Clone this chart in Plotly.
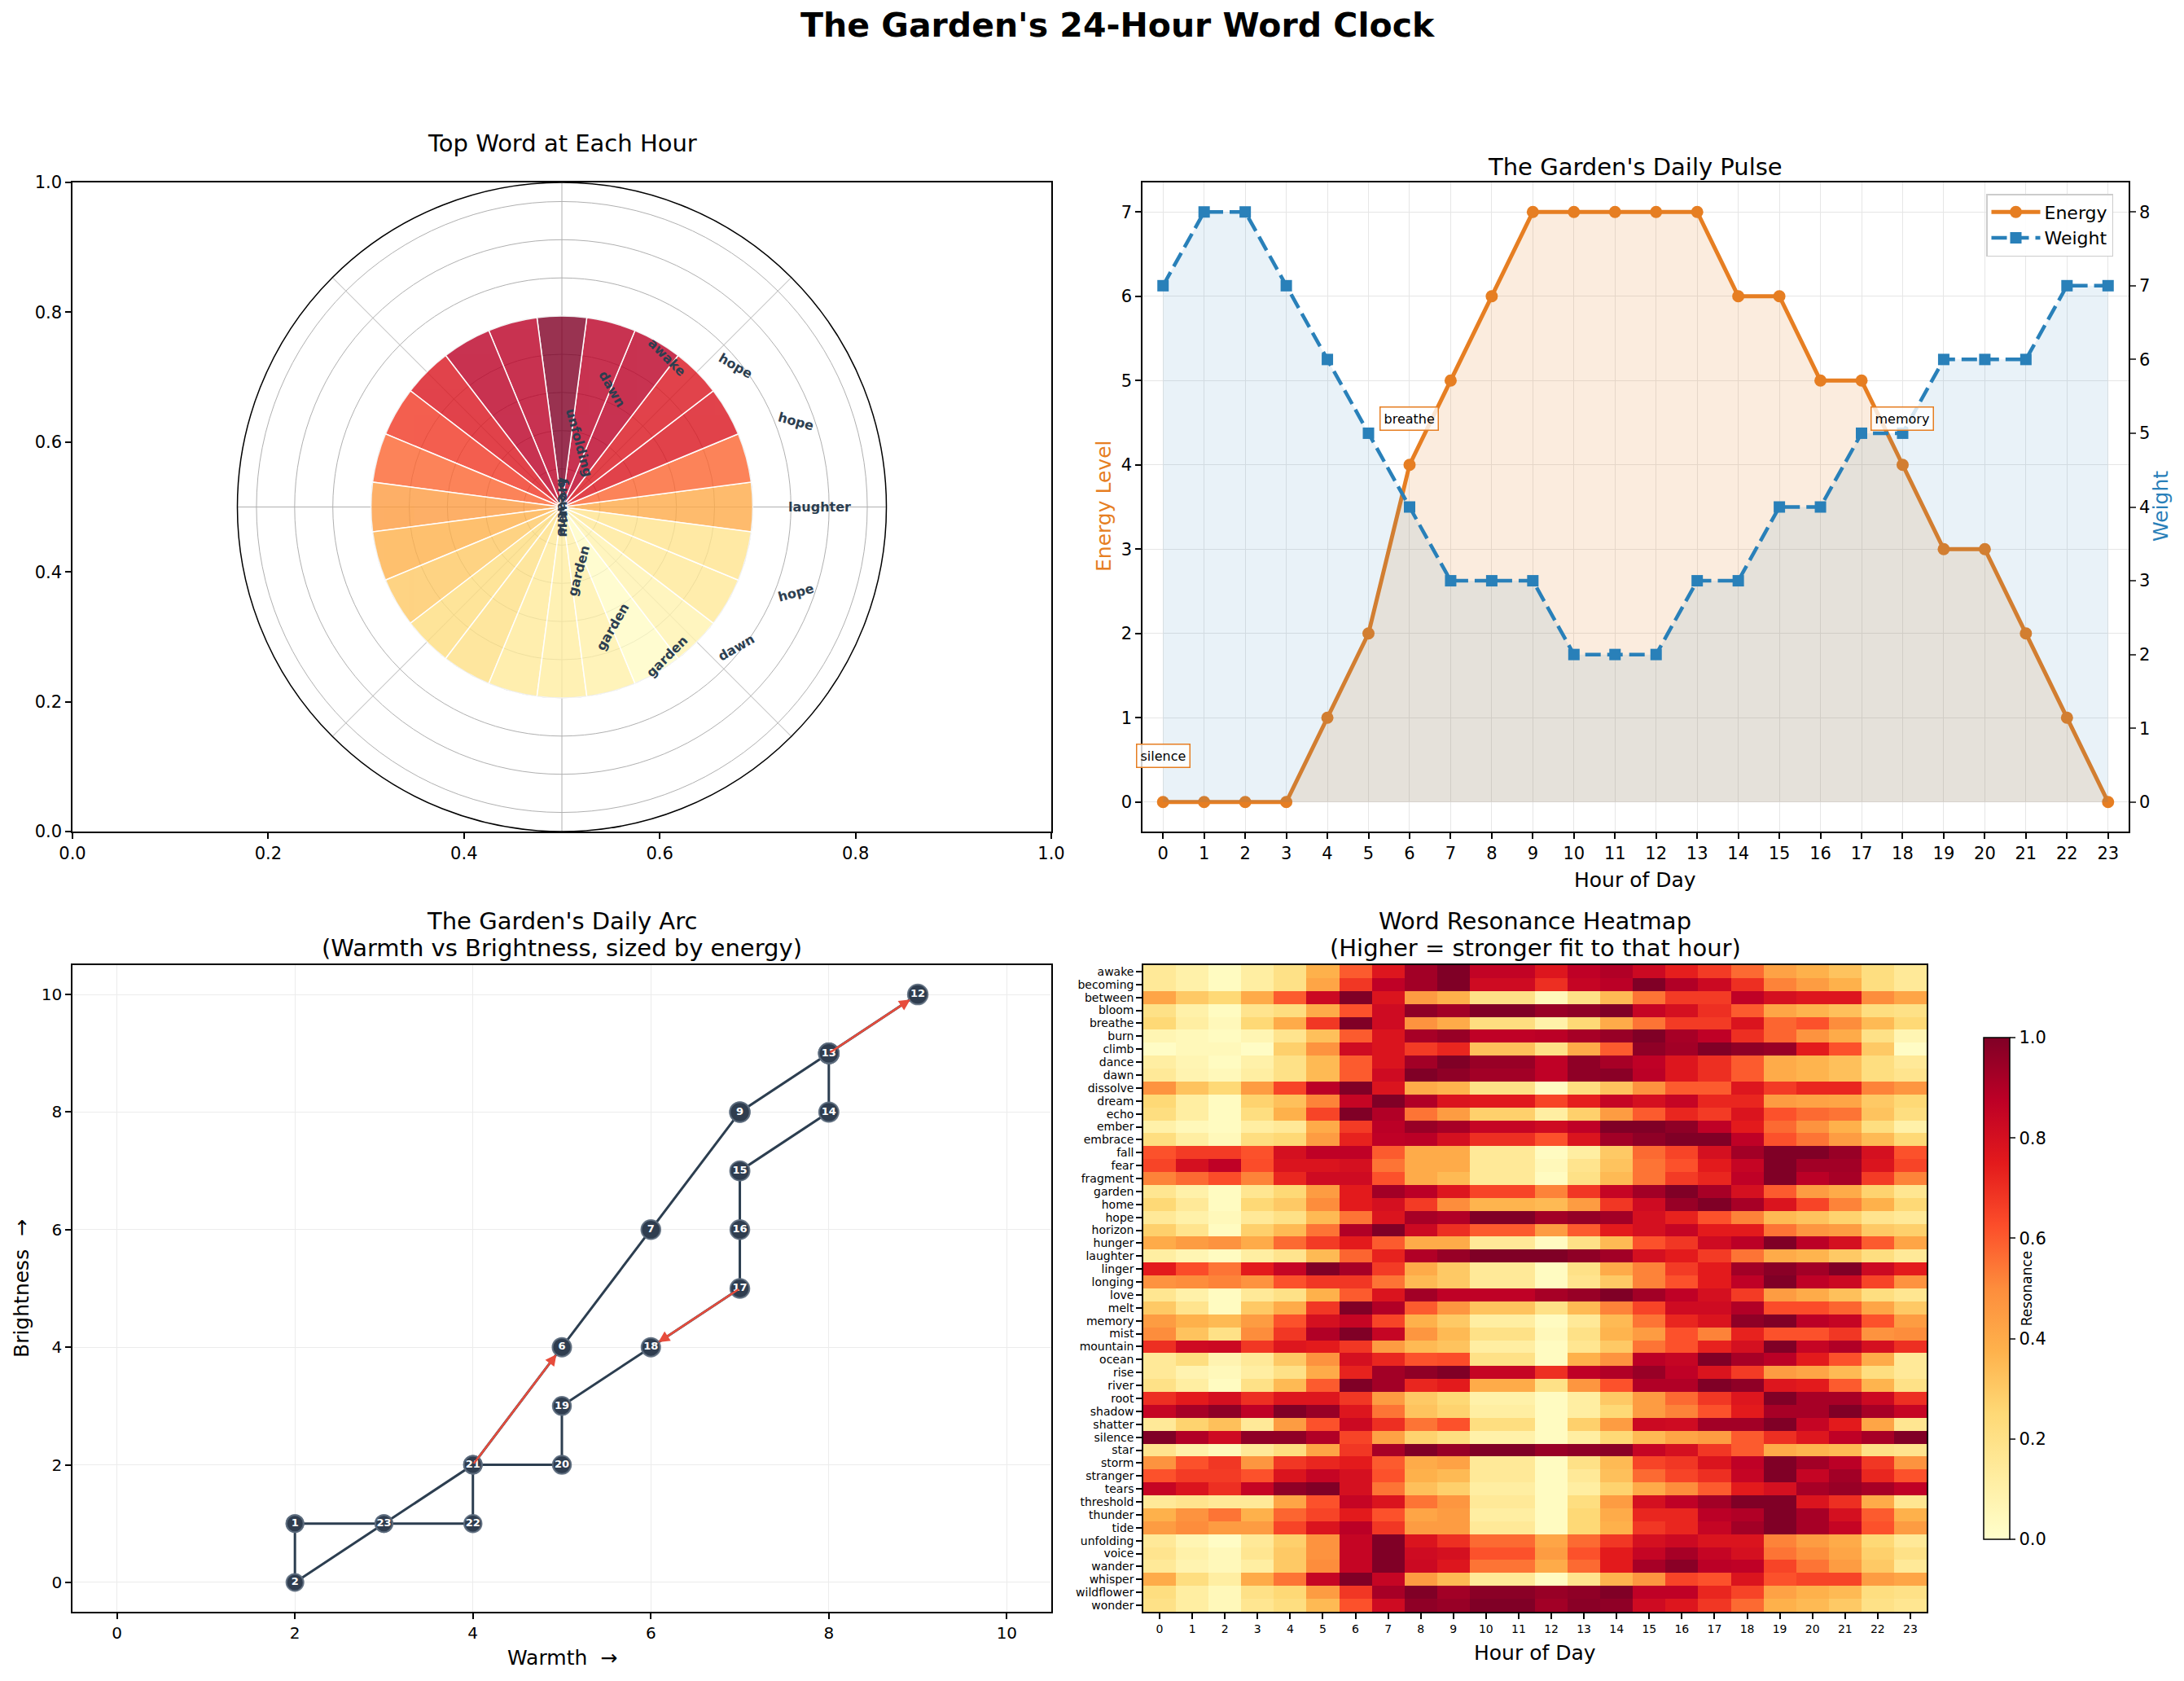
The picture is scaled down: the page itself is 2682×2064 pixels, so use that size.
import math
import plotly.graph_objects as go

W, H = 2682, 2064
FONT = "DejaVu Sans"

# ---------------- data ----------------
hours = list(range(24))
energy = [0, 0, 0, 0, 1, 2, 4, 5, 6, 7, 7, 7, 7, 7, 6, 6, 5, 5, 4, 3, 3, 2, 1, 0]
weight = [7, 8, 8, 7, 6, 5, 4, 3, 3, 3, 2, 2, 2, 3, 3, 4, 4, 5, 5, 6, 6, 6, 7, 7]
warmth = [2, 2, 2, 3, 4, 4, 5, 6, 7, 7, 8, 8, 9, 8, 8, 7, 7, 7, 6, 5, 5, 4, 4, 3]
brightness = [1, 1, 0, 1, 2, 2, 4, 6, 8, 8, 9, 9, 10, 9, 8, 7, 6, 5, 4, 3, 2, 2, 1, 1]

pulse_words = ["silence", "breathe", "memory"]
pulse_word_hours = [0, 6, 18]
arc_arrow_pairs = [(5, 6), (11, 12), (17, 18)]

# polar clock: 24 wedges (counter-clockwise from east), equal length, coloured by intensity
clock_theta = [15 * i for i in range(24)]
clock_r = [5] * 24
clock_intensity = [0.40, 0.58, 0.78, 0.78, 0.88, 0.88, 1.00, 0.88, 0.88, 0.78, 0.68, 0.58,
                   0.45, 0.38, 0.30, 0.22, 0.20, 0.14, 0.12, 0.10, 0.02, 0.08, 0.15, 0.18]
clock_words = ["laughter", "hope", "hope", "awake", "dawn", "unfolding",
               "garden", "garden", "garden", "dawn", "hope"]
clock_word_angle = [0, 20, 39, 55, 67, 75, -75, -67, -55, -39, -20]
clock_word_r = [6.76, 6.53, 5.87, 4.78, 3.37, 1.74, 1.73, 3.40, 4.78, 5.86, 6.53]
clock_word_slot = [0, 15, 30, 45, 60, 75, -75, -60, -45, -30, -15]
clock_center_words = ["breathe", "memory"]

heat_words = ["awake", "becoming", "between", "bloom", "breathe", "burn", "climb", "dance",
              "dawn", "dissolve", "dream", "echo", "ember", "embrace", "fall", "fear",
              "fragment", "garden", "home", "hope", "horizon", "hunger", "laughter", "linger",
              "longing", "love", "melt", "memory", "mist", "mountain", "ocean", "rise",
              "river", "root", "shadow", "shatter", "silence", "star", "storm", "stranger",
              "tears", "threshold", "thunder", "tide", "unfolding", "voice", "wander",
              "whisper", "wildflower", "wonder"]

resonance = [
    [0.15, 0.10, 0.03, 0.12, 0.20, 0.38, 0.60, 0.77, 0.93, 1.00, 0.86, 0.86, 0.77, 0.87, 0.90, 0.83, 0.74, 0.67, 0.57, 0.43, 0.38, 0.32, 0.22, 0.15],  # awake
    [0.15, 0.10, 0.03, 0.12, 0.20, 0.42, 0.68, 0.87, 0.93, 1.00, 0.82, 0.82, 0.70, 0.85, 0.88, 1.00, 0.90, 0.83, 0.70, 0.52, 0.45, 0.38, 0.22, 0.15],  # becoming
    [0.42, 0.30, 0.25, 0.40, 0.60, 0.83, 1.00, 0.78, 0.45, 0.38, 0.20, 0.20, 0.05, 0.20, 0.35, 0.55, 0.67, 0.67, 0.87, 0.80, 0.77, 0.77, 0.50, 0.42],  # between
    [0.20, 0.10, 0.03, 0.18, 0.22, 0.40, 0.62, 0.82, 0.97, 0.93, 1.00, 1.00, 0.95, 0.97, 1.00, 0.85, 0.80, 0.70, 0.60, 0.42, 0.37, 0.33, 0.22, 0.20],  # bloom
    [0.25, 0.12, 0.05, 0.25, 0.40, 0.68, 1.00, 0.82, 0.48, 0.40, 0.22, 0.22, 0.10, 0.25, 0.40, 0.55, 0.67, 0.67, 0.78, 0.58, 0.62, 0.50, 0.35, 0.25],  # breathe
    [0.07, 0.05, 0.03, 0.07, 0.18, 0.33, 0.60, 0.78, 0.92, 0.95, 0.87, 0.87, 0.88, 0.92, 0.95, 1.00, 0.92, 0.87, 0.70, 0.58, 0.48, 0.40, 0.20, 0.07],  # burn
    [0.02, 0.05, 0.05, 0.02, 0.28, 0.48, 0.82, 0.78, 0.67, 0.72, 0.33, 0.33, 0.20, 0.40, 0.60, 0.97, 0.93, 1.00, 0.97, 0.95, 0.75, 0.62, 0.30, 0.02],  # climb
    [0.12, 0.07, 0.03, 0.10, 0.20, 0.35, 0.60, 0.78, 0.93, 1.00, 0.95, 0.95, 0.87, 0.97, 0.92, 0.87, 0.77, 0.70, 0.60, 0.40, 0.37, 0.33, 0.22, 0.15],  # dance
    [0.15, 0.08, 0.05, 0.12, 0.20, 0.35, 0.60, 0.82, 1.00, 0.97, 0.93, 0.93, 0.87, 0.97, 0.98, 0.88, 0.77, 0.70, 0.60, 0.40, 0.37, 0.33, 0.22, 0.18],  # dawn
    [0.48, 0.32, 0.25, 0.45, 0.65, 0.88, 1.00, 0.78, 0.40, 0.37, 0.20, 0.20, 0.03, 0.22, 0.32, 0.48, 0.60, 0.60, 0.77, 0.67, 0.72, 0.72, 0.52, 0.47],  # dissolve
    [0.25, 0.12, 0.03, 0.27, 0.33, 0.52, 0.85, 1.00, 0.90, 0.78, 0.76, 0.76, 0.65, 0.74, 0.85, 0.80, 0.85, 0.72, 0.72, 0.45, 0.43, 0.42, 0.30, 0.25],  # dream
    [0.22, 0.12, 0.03, 0.22, 0.38, 0.65, 1.00, 0.90, 0.55, 0.45, 0.28, 0.28, 0.12, 0.28, 0.45, 0.60, 0.72, 0.67, 0.78, 0.62, 0.57, 0.55, 0.32, 0.22],  # echo
    [0.10, 0.05, 0.03, 0.12, 0.15, 0.40, 0.67, 0.88, 0.95, 0.92, 0.85, 0.85, 0.82, 0.87, 1.00, 1.00, 0.97, 0.87, 0.75, 0.57, 0.48, 0.38, 0.22, 0.10],  # ember
    [0.22, 0.12, 0.05, 0.22, 0.25, 0.45, 0.73, 0.87, 0.88, 0.80, 0.70, 0.70, 0.62, 0.78, 0.93, 0.97, 1.00, 1.00, 0.87, 0.62, 0.55, 0.45, 0.35, 0.25],  # embrace
    [0.62, 0.67, 0.67, 0.62, 0.80, 0.87, 0.87, 0.60, 0.40, 0.40, 0.15, 0.15, 0.03, 0.12, 0.30, 0.57, 0.65, 0.80, 0.93, 1.00, 1.00, 0.95, 0.80, 0.62],  # fall
    [0.65, 0.80, 0.87, 0.63, 0.78, 0.78, 0.80, 0.55, 0.40, 0.40, 0.15, 0.15, 0.05, 0.18, 0.32, 0.55, 0.62, 0.75, 0.85, 1.00, 0.93, 0.93, 0.78, 0.65],  # fear
    [0.52, 0.57, 0.63, 0.52, 0.72, 0.82, 0.82, 0.62, 0.40, 0.35, 0.15, 0.15, 0.03, 0.20, 0.35, 0.55, 0.67, 0.72, 0.87, 1.00, 0.88, 0.92, 0.67, 0.52],  # fragment
    [0.17, 0.10, 0.03, 0.17, 0.25, 0.45, 0.75, 0.93, 0.88, 0.77, 0.65, 0.65, 0.52, 0.68, 0.85, 0.93, 1.00, 0.92, 0.80, 0.60, 0.45, 0.40, 0.27, 0.17],  # garden
    [0.25, 0.15, 0.03, 0.25, 0.30, 0.50, 0.75, 0.80, 0.67, 0.50, 0.37, 0.37, 0.35, 0.45, 0.68, 0.82, 0.95, 1.00, 0.92, 0.78, 0.65, 0.52, 0.38, 0.25],  # home
    [0.15, 0.10, 0.05, 0.15, 0.20, 0.35, 0.55, 0.78, 0.92, 0.90, 1.00, 1.00, 0.93, 0.96, 0.93, 0.80, 0.73, 0.62, 0.52, 0.35, 0.32, 0.27, 0.18, 0.15],  # hope
    [0.28, 0.18, 0.03, 0.28, 0.35, 0.55, 0.90, 1.00, 0.83, 0.70, 0.60, 0.60, 0.45, 0.60, 0.75, 0.80, 0.85, 0.75, 0.75, 0.55, 0.47, 0.45, 0.30, 0.28],  # horizon
    [0.40, 0.45, 0.48, 0.40, 0.57, 0.67, 0.75, 0.60, 0.40, 0.40, 0.15, 0.15, 0.03, 0.20, 0.35, 0.62, 0.68, 0.82, 0.88, 1.00, 0.88, 0.80, 0.60, 0.42],  # hunger
    [0.12, 0.07, 0.03, 0.12, 0.18, 0.35, 0.58, 0.73, 0.90, 0.95, 1.00, 1.00, 1.00, 0.97, 0.93, 0.80, 0.75, 0.67, 0.55, 0.40, 0.37, 0.30, 0.22, 0.15],  # laughter
    [0.75, 0.63, 0.55, 0.75, 0.85, 1.00, 0.92, 0.67, 0.40, 0.30, 0.15, 0.15, 0.03, 0.20, 0.40, 0.52, 0.67, 0.75, 0.93, 0.98, 0.93, 1.00, 0.83, 0.75],  # linger
    [0.48, 0.50, 0.52, 0.48, 0.62, 0.68, 0.68, 0.55, 0.35, 0.30, 0.15, 0.15, 0.03, 0.18, 0.30, 0.52, 0.62, 0.75, 0.87, 1.00, 0.87, 0.83, 0.65, 0.48],  # longing
    [0.17, 0.10, 0.03, 0.15, 0.20, 0.38, 0.60, 0.78, 0.93, 0.87, 0.87, 0.87, 0.92, 0.95, 1.00, 0.93, 0.87, 0.80, 0.67, 0.45, 0.40, 0.33, 0.22, 0.17],  # love
    [0.30, 0.18, 0.03, 0.30, 0.40, 0.68, 1.00, 0.90, 0.60, 0.47, 0.32, 0.32, 0.20, 0.35, 0.52, 0.65, 0.82, 0.82, 0.90, 0.63, 0.63, 0.58, 0.42, 0.30],  # melt
    [0.45, 0.38, 0.35, 0.45, 0.62, 0.80, 0.85, 0.65, 0.38, 0.30, 0.12, 0.12, 0.03, 0.15, 0.35, 0.55, 0.72, 0.78, 0.97, 1.00, 0.88, 0.85, 0.62, 0.45],  # memory
    [0.50, 0.32, 0.20, 0.50, 0.68, 0.90, 1.00, 0.85, 0.47, 0.35, 0.20, 0.20, 0.05, 0.20, 0.37, 0.45, 0.62, 0.52, 0.73, 0.62, 0.62, 0.68, 0.48, 0.50],  # mist
    [0.70, 0.82, 0.83, 0.68, 0.77, 0.75, 0.68, 0.45, 0.35, 0.32, 0.12, 0.12, 0.03, 0.17, 0.30, 0.55, 0.62, 0.73, 0.80, 1.00, 0.85, 0.90, 0.80, 0.70],  # mountain
    [0.15, 0.22, 0.08, 0.15, 0.30, 0.48, 0.80, 0.72, 0.62, 0.63, 0.20, 0.20, 0.03, 0.38, 0.48, 0.88, 0.85, 1.00, 0.92, 0.88, 0.75, 0.62, 0.40, 0.15],  # ocean
    [0.15, 0.08, 0.05, 0.12, 0.20, 0.40, 0.73, 0.93, 0.97, 1.00, 0.85, 0.85, 0.70, 0.87, 0.90, 0.95, 0.87, 0.78, 0.67, 0.45, 0.42, 0.35, 0.22, 0.15],  # rise
    [0.20, 0.12, 0.03, 0.20, 0.35, 0.60, 1.00, 0.93, 0.72, 0.75, 0.40, 0.40, 0.20, 0.47, 0.62, 0.90, 0.90, 1.00, 0.97, 0.77, 0.75, 0.60, 0.37, 0.20],  # river
    [0.70, 0.75, 0.80, 0.70, 0.77, 0.77, 0.68, 0.45, 0.30, 0.25, 0.10, 0.10, 0.03, 0.12, 0.30, 0.45, 0.57, 0.68, 0.77, 1.00, 0.92, 0.92, 0.83, 0.70],  # root
    [0.85, 0.92, 0.97, 0.87, 1.00, 0.95, 0.77, 0.55, 0.32, 0.27, 0.12, 0.12, 0.03, 0.12, 0.25, 0.45, 0.52, 0.62, 0.75, 0.92, 0.92, 1.00, 0.92, 0.85],  # shadow
    [0.15, 0.27, 0.33, 0.15, 0.45, 0.62, 0.83, 0.70, 0.55, 0.62, 0.22, 0.22, 0.03, 0.28, 0.45, 0.83, 0.82, 0.93, 0.93, 1.00, 0.85, 0.75, 0.42, 0.17],  # shatter
    [1.00, 0.90, 0.82, 0.97, 0.97, 0.90, 0.65, 0.43, 0.27, 0.22, 0.10, 0.10, 0.03, 0.12, 0.25, 0.35, 0.42, 0.45, 0.60, 0.70, 0.77, 0.87, 0.92, 1.00],  # silence
    [0.18, 0.10, 0.05, 0.15, 0.22, 0.42, 0.68, 0.92, 1.00, 0.95, 1.00, 1.00, 0.95, 0.97, 0.98, 0.85, 0.80, 0.68, 0.60, 0.40, 0.37, 0.35, 0.20, 0.18],  # star
    [0.48, 0.62, 0.68, 0.47, 0.68, 0.72, 0.75, 0.60, 0.40, 0.43, 0.15, 0.15, 0.03, 0.20, 0.35, 0.65, 0.68, 0.78, 0.87, 1.00, 0.93, 0.88, 0.68, 0.48],  # storm
    [0.62, 0.67, 0.67, 0.62, 0.78, 0.85, 0.80, 0.62, 0.38, 0.35, 0.15, 0.15, 0.03, 0.15, 0.33, 0.57, 0.65, 0.70, 0.85, 1.00, 0.85, 0.93, 0.72, 0.62],  # stranger
    [0.85, 0.78, 0.70, 0.85, 0.97, 1.00, 0.80, 0.55, 0.33, 0.28, 0.12, 0.12, 0.03, 0.12, 0.27, 0.40, 0.50, 0.60, 0.75, 0.80, 0.92, 0.95, 0.92, 0.87],  # tears
    [0.15, 0.18, 0.15, 0.15, 0.42, 0.62, 0.85, 0.78, 0.55, 0.47, 0.15, 0.15, 0.03, 0.22, 0.45, 0.80, 0.87, 0.93, 1.00, 1.00, 0.78, 0.70, 0.40, 0.17],  # threshold
    [0.38, 0.48, 0.55, 0.38, 0.58, 0.65, 0.75, 0.62, 0.42, 0.45, 0.12, 0.12, 0.03, 0.25, 0.40, 0.72, 0.72, 0.88, 0.90, 1.00, 0.92, 0.80, 0.60, 0.38],  # thunder
    [0.45, 0.50, 0.45, 0.45, 0.65, 0.78, 0.88, 0.68, 0.45, 0.45, 0.15, 0.15, 0.03, 0.25, 0.38, 0.68, 0.72, 0.85, 0.93, 1.00, 0.92, 0.85, 0.62, 0.45],  # tide
    [0.15, 0.07, 0.02, 0.15, 0.28, 0.48, 0.85, 1.00, 0.78, 0.70, 0.57, 0.57, 0.42, 0.57, 0.68, 0.80, 0.83, 0.78, 0.78, 0.52, 0.45, 0.40, 0.25, 0.15],  # unfolding
    [0.18, 0.10, 0.05, 0.17, 0.30, 0.48, 0.85, 1.00, 0.82, 0.80, 0.62, 0.62, 0.45, 0.62, 0.75, 0.85, 0.92, 0.85, 0.80, 0.55, 0.50, 0.42, 0.28, 0.20],  # voice
    [0.15, 0.08, 0.05, 0.12, 0.30, 0.50, 0.85, 1.00, 0.83, 0.77, 0.55, 0.55, 0.40, 0.57, 0.75, 0.92, 0.98, 0.88, 0.87, 0.65, 0.55, 0.45, 0.30, 0.15],  # wander
    [0.40, 0.22, 0.12, 0.40, 0.55, 0.85, 1.00, 0.85, 0.45, 0.35, 0.15, 0.15, 0.03, 0.18, 0.37, 0.47, 0.65, 0.62, 0.78, 0.62, 0.65, 0.65, 0.45, 0.42],  # whisper
    [0.22, 0.12, 0.05, 0.20, 0.25, 0.45, 0.68, 0.92, 1.00, 0.93, 0.98, 0.98, 0.95, 0.97, 1.00, 0.87, 0.87, 0.72, 0.65, 0.43, 0.38, 0.35, 0.22, 0.20],  # wildflower
    [0.20, 0.12, 0.05, 0.17, 0.22, 0.35, 0.62, 0.82, 0.97, 0.95, 1.00, 1.00, 0.93, 0.98, 0.97, 0.82, 0.77, 0.68, 0.57, 0.38, 0.35, 0.30, 0.20, 0.17],  # wonder
]

# ---------------- style ----------------
YLORRD = ["#ffffcc", "#ffeda0", "#fed976", "#feb24c", "#fd8d3c",
          "#fc4e2a", "#e31a1c", "#bd0026", "#800026"]
CSCALE = [[i / (len(YLORRD) - 1), c] for i, c in enumerate(YLORRD)]
ORANGE = "#e67e22"
BLUE = "#2980b9"
NAVY = "#2c3e50"
RED = "#e74c3c"
GRID = "#e6e6e6"


def dom_x(a, b):
    return [a / W, b / W]


def dom_y(top, bottom):
    return [1 - bottom / H, 1 - top / H]


TL_X, TL_Y = dom_x(89, 1291), dom_y(224, 1021)
TR_X, TR_Y = dom_x(1403, 2614), dom_y(224, 1021)
BL_X, BL_Y = dom_x(89, 1291), dom_y(1185, 1979)
BR_X, BR_Y = dom_x(1404, 2366), dom_y(1185, 1979)

fig = go.Figure()

# ---------- top-left: polar clock ----------
R_MAX = 8.5
fig.add_trace(go.Barpolar(
    r=clock_r, theta=clock_theta, width=[15] * 24,
    marker=dict(color=clock_intensity, colorscale=CSCALE, cmin=0, cmax=1,
                opacity=0.8, line=dict(color="white", width=1.5)),
    subplot="polar", showlegend=False, hoverinfo="skip"))
# invisible trace so the cartesian frame around the polar is drawn
fig.add_trace(go.Scatter(x=[0, 1], y=[0, 1], mode="markers", marker=dict(opacity=0),
                         xaxis="x", yaxis="y", showlegend=False, hoverinfo="skip"))

# ---------- top-right: daily pulse ----------
fig.add_trace(go.Scatter(x=hours, y=energy, mode="lines", line=dict(width=0),
                         fill="tozeroy", fillcolor="rgba(230,126,34,0.15)",
                         xaxis="x2", yaxis="y2", showlegend=False, hoverinfo="skip"))
fig.add_trace(go.Scatter(x=hours, y=energy, mode="lines+markers", name="Energy",
                         line=dict(color=ORANGE, width=5),
                         marker=dict(symbol="circle", size=15, color=ORANGE),
                         xaxis="x2", yaxis="y2"))
fig.add_trace(go.Scatter(x=hours, y=weight, mode="lines", line=dict(width=0),
                         fill="tozeroy", fillcolor="rgba(41,128,185,0.1)",
                         xaxis="x2", yaxis="y3", showlegend=False, hoverinfo="skip"))
fig.add_trace(go.Scatter(x=hours, y=weight, mode="lines+markers", name="Weight",
                         line=dict(color=BLUE, width=4.5, dash="19px,8px"),
                         marker=dict(symbol="square", size=14, color=BLUE),
                         xaxis="x2", yaxis="y3"))

# ---------- bottom-left: daily arc ----------
loop_x = warmth + warmth[:1]
loop_y = brightness + brightness[:1]
fig.add_trace(go.Scatter(x=loop_x, y=loop_y, mode="lines", line=dict(color=NAVY, width=3),
                         xaxis="x3", yaxis="y4", showlegend=False, hoverinfo="skip"))
for h in hours:  # one trace per hour so later hours sit on top of earlier ones
    fig.add_trace(go.Scatter(
        x=[warmth[h]], y=[brightness[h]], mode="markers+text",
        text=["<b>%d</b>" % h], textposition="middle center",
        textfont=dict(family=FONT, size=13, color="white"),
        marker=dict(size=21 + 0.5 * energy[h], color="#2f3d4f",
                    line=dict(color="rgba(93,109,126,0.9)", width=2)),
        xaxis="x3", yaxis="y4", showlegend=False, hoverinfo="skip"))

# ---------- bottom-right: heatmap ----------
fig.add_trace(go.Heatmap(
    z=resonance, x=hours, y=list(range(len(heat_words))),
    colorscale=CSCALE, zmin=0, zmax=1, xaxis="x4", yaxis="y5",
    colorbar=dict(x=2426 / W, xanchor="left", y=1 - 1582 / H, yanchor="middle",
                  len=(1900 - 1264) / H, lenmode="fraction", thickness=32,
                  outlinecolor="black", outlinewidth=1.5, ticks="outside", ticklen=7,
                  tickwidth=1.5, tickvals=[0, 0.2, 0.4, 0.6, 0.8, 1.0],
                  ticktext=["0.0", "0.2", "0.4", "0.6", "0.8", "1.0"],
                  tickfont=dict(family=FONT, size=21, color="black"),
                  title=dict(text="Resonance", side="right",
                             font=dict(family=FONT, size=17, color="black"))),
    hoverinfo="skip"))

# ---------------- annotations ----------------
ann = []


def paper_text(text, x, y, size, color="black", angle=0, bold=False):
    ann.append(dict(text=("<b>%s</b>" % text) if bold else text, x=x / W, y=1 - y / H,
                    xref="paper", yref="paper", showarrow=False, textangle=angle,
                    xanchor="center", yanchor="middle",
                    font=dict(family=FONT, size=size, color=color)))


paper_text("The Garden's 24-Hour Word Clock", 1373, 31, 41, bold=True)
paper_text("Top Word at Each Hour", 690, 176, 29)
paper_text("The Garden's Daily Pulse", 2008, 205, 29)
paper_text("The Garden's Daily Arc", 690, 1131, 29)
paper_text("(Warmth vs Brightness, sized by energy)", 690, 1164, 29)
paper_text("Word Resonance Heatmap", 1885, 1131, 29)
paper_text("(Higher = stronger fit to that hour)", 1885, 1164, 29)
paper_text("Hour of Day", 2008, 1080, 25)
paper_text("Energy Level", 1355, 622, 25, color=ORANGE, angle=-90)
paper_text("Weight", 2653, 622, 25, color=BLUE, angle=-90)
paper_text("Warmth  \u2192", 690, 2035, 25)
paper_text("Brightness  \u2192", 26, 1582, 25, angle=-90)
paper_text("Hour of Day", 1885, 2029, 25)

# words on the polar clock (placed via the frame's 0..1 coordinates)
fw = (TL_X[1] - TL_X[0]) * W
fh = (TL_Y[1] - TL_Y[0]) * H
rad_px = min(fw, fh) / 2
for word, ang, r, slot in zip(clock_words, clock_word_angle, clock_word_r, clock_word_slot):
    t = math.radians(ang)
    ann.append(dict(text="<b>%s</b>" % word, xref="x", yref="y", showarrow=False,
                    x=0.5 + (r / R_MAX) * rad_px * math.cos(t) / fw,
                    y=0.5 + (r / R_MAX) * rad_px * math.sin(t) / fh,
                    textangle=slot, font=dict(family=FONT, size=16, color=NAVY)))
for k, word in enumerate(clock_center_words):
    ann.append(dict(text="<b>%s</b>" % word, xref="x", yref="y", showarrow=False,
                    x=0.5, y=0.5, textangle=90 if k % 2 == 0 else -90,
                    font=dict(family=FONT, size=16, color=NAVY)))

# word labels on the pulse chart
for word, h in zip(pulse_words, pulse_word_hours):
    ann.append(dict(text=word, x=h, y=energy[h] + 0.55, xref="x2", yref="y2",
                    showarrow=False, bgcolor="rgba(255,255,255,0.8)",
                    bordercolor=ORANGE, borderwidth=1.5, borderpad=4,
                    font=dict(family=FONT, size=16, color="black")))

# red transition arrows on the arc
for a, b in arc_arrow_pairs:
    ann.append(dict(text="", x=warmth[b], y=brightness[b], ax=warmth[a], ay=brightness[a],
                    xref="x3", yref="y4", axref="x3", ayref="y4", showarrow=True,
                    arrowhead=2, arrowsize=1.1, arrowwidth=2.5, arrowcolor=RED,
                    standoff=11, startstandoff=0))


def axis_common(size=21):
    return dict(showline=True, linecolor="black", linewidth=1.5, mirror=True,
                ticks="outside", ticklen=7, tickwidth=1.5, tickcolor="black",
                tickfont=dict(family=FONT, size=size, color="black"), zeroline=False,
                automargin=False)


fig.update_layout(
    width=W, height=H, autosize=False,
    margin=dict(l=0, r=0, t=0, b=0, pad=0, autoexpand=False),
    paper_bgcolor="white", plot_bgcolor="white",
    font=dict(family=FONT, color="black"),
    annotations=ann,
    polar=dict(
        domain=dict(x=TL_X, y=TL_Y), bgcolor="rgba(0,0,0,0)",
        radialaxis=dict(range=[0, R_MAX], tickvals=[1, 2, 3, 4, 5, 6, 7, 8],
                        showticklabels=False, ticks="", showline=False,
                        gridcolor="#b0b0b0", gridwidth=1.2, layer="above traces"),
        angularaxis=dict(tickvals=[0, 45, 90, 135, 180, 225, 270, 315],
                         showticklabels=False, ticks="", rotation=0,
                         direction="counterclockwise", gridcolor="#b0b0b0", gridwidth=1.2,
                         showline=True, linecolor="black", linewidth=1.5,
                         layer="above traces")),
    xaxis=dict(domain=TL_X, anchor="y", range=[0, 1], showgrid=False,
               tickvals=[0, 0.2, 0.4, 0.6, 0.8, 1.0],
               ticktext=["0.0", "0.2", "0.4", "0.6", "0.8", "1.0"], **axis_common()),
    yaxis=dict(domain=TL_Y, anchor="x", range=[0, 1], showgrid=False,
               tickvals=[0, 0.2, 0.4, 0.6, 0.8, 1.0],
               ticktext=["0.0", "0.2", "0.4", "0.6", "0.8", "1.0"], **axis_common()),
    xaxis2=dict(domain=TR_X, anchor="y2", range=[-0.5, 23.5], tickvals=hours,
                showgrid=True, gridcolor=GRID, gridwidth=1, **axis_common()),
    yaxis2=dict(domain=TR_Y, anchor="x2", range=[-0.35, 7.35], tickvals=list(range(8)),
                showgrid=True, gridcolor=GRID, gridwidth=1, **axis_common()),
    yaxis3=dict(overlaying="y2", anchor="x2", side="right", range=[-0.4, 8.4],
                tickvals=list(range(9)), showgrid=False, showline=True, linecolor="black",
                linewidth=1.5, ticks="outside", ticklen=7, tickwidth=1.5,
                tickfont=dict(family=FONT, size=21, color="black"), zeroline=False,
                automargin=False),
    xaxis3=dict(domain=BL_X, anchor="y4", range=[-0.5, 10.5], tickvals=[0, 2, 4, 6, 8, 10],
                showgrid=True, gridcolor="#ececec", **axis_common(20)),
    yaxis4=dict(domain=BL_Y, anchor="x3", range=[-0.5, 10.5], tickvals=[0, 2, 4, 6, 8, 10],
                showgrid=True, gridcolor="#ececec", **axis_common(20)),
    xaxis4=dict(domain=BR_X, anchor="y5", range=[-0.5, 23.5], tickvals=hours,
                showgrid=False, **axis_common(14)),
    yaxis5=dict(domain=BR_Y, anchor="x4", range=[len(heat_words) - 0.5, -0.5],
                tickvals=list(range(len(heat_words))), ticktext=heat_words,
                showgrid=False, **axis_common(14)),
    legend=dict(x=2595 / W, y=1 - 238 / H, xanchor="right", yanchor="top",
                bgcolor="rgba(255,255,255,0.9)", bordercolor="#cccccc", borderwidth=1.5,
                font=dict(family=FONT, size=22, color="black"), itemwidth=60),
)

fig.write_html("out.html", config={"displayModeBar": False},
               post_script="document.body.style.margin='0';")
